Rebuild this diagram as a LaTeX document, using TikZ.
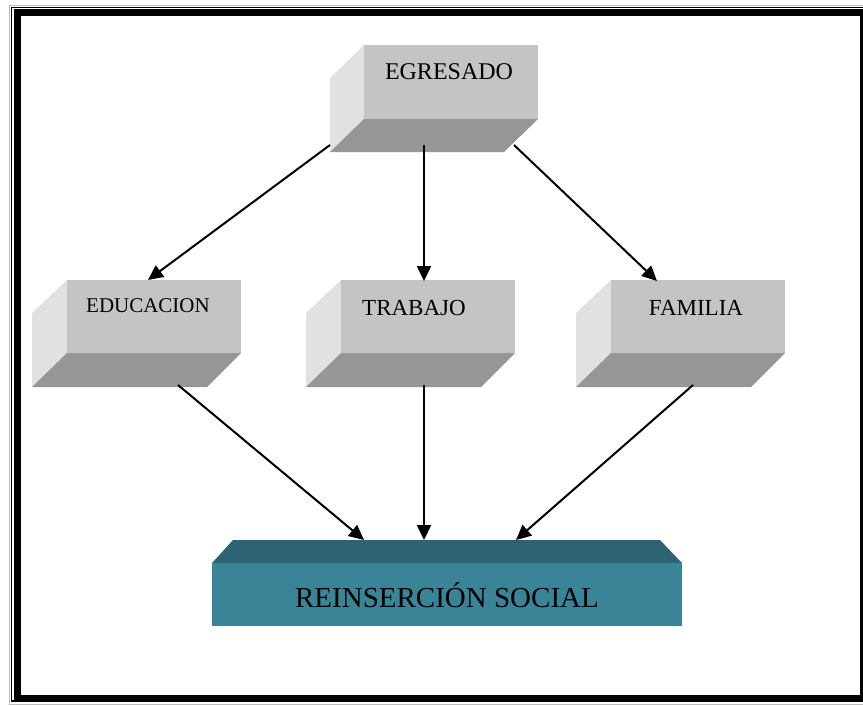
\documentclass[tikz,border=0pt]{standalone}
\usepackage{fontspec}
\setmainfont{Liberation Serif}
\usetikzlibrary{arrows.meta}

\definecolor{frontgray}{RGB}{196,196,196}
\definecolor{sidegray}{RGB}{225,225,225}
\definecolor{basegray}{RGB}{150,150,150}
\definecolor{tealfront}{RGB}{58,132,152}
\definecolor{tealtop}{RGB}{45,99,114}

\begin{document}
\begin{tikzpicture}[x=1pt,y=-1pt,
    flecha/.style={line width=2pt,-{Triangle[length=15pt,width=14pt]}},
    rotulo/.style={inner sep=0pt,font=\fontsize{23}{26}\selectfont}]
    \useasboundingbox (0,0) rectangle (863,705);

    % marco
    \draw[gray!50, line width=1pt] (9,5) rectangle (880,704);
    \draw[black, line width=1.2pt] (11.5,7.5) rectangle (878,701);
    \draw[black, line width=7pt] (17.5,12.5) rectangle (863.5,698);

    % EGRESADO
    \fill[sidegray] (364,45) -- (330,78) -- (330,152) -- (364,119) -- cycle;
    \fill[basegray] (364,119) -- (538,119) -- (504,152) -- (330,152) -- cycle;
    \fill[frontgray] (364,45) rectangle (538,119);
    \node[rotulo, font=\fontsize{24}{26}\selectfont] (egr) at (449,72) {EGRESADO};

    % EDUCACION
    \fill[sidegray] (67,280) -- (32,313) -- (32,387) -- (67,353) -- cycle;
    \fill[basegray] (67,353) -- (241,353) -- (207,387) -- (32,387) -- cycle;
    \fill[frontgray] (67,280) rectangle (241,353);
    \node[rotulo, font=\fontsize{21}{24}\selectfont] (edu) at (148,306) {EDUCACION};

    % TRABAJO
    \fill[sidegray] (341,280) -- (306,313) -- (306,387) -- (341,353) -- cycle;
    \fill[basegray] (341,353) -- (515,353) -- (481,387) -- (306,387) -- cycle;
    \fill[frontgray] (341,280) rectangle (515,353);
    \node[rotulo] (tra) at (414,308) {TRABAJO};

    % FAMILIA
    \fill[sidegray] (611,280) -- (576,313) -- (576,387) -- (611,353) -- cycle;
    \fill[basegray] (611,353) -- (785,353) -- (751,387) -- (576,387) -- cycle;
    \fill[frontgray] (611,280) rectangle (785,353);
    \node[rotulo] (fam) at (696,308) {FAMILIA};

    % REINSERCION SOCIAL
    \fill[tealtop] (212,563) -- (233,540) -- (660,540) -- (682,563) -- cycle;
    \fill[tealfront] (212,563) rectangle (682,626);
    \node[rotulo, font=\fontsize{29}{32}\selectfont] (rei) at (447,595) {REINSERCIÓN SOCIAL};

    % puntos de las flechas
    \coordinate (egrA) at (330,145);
    \coordinate (egrB) at (424,145);
    \coordinate (egrC) at (514,145);
    \coordinate (eduT) at (148,280);
    \coordinate (traT) at (424,281);
    \coordinate (famT) at (657,281);
    \coordinate (eduB) at (178,385);
    \coordinate (traB) at (424,385);
    \coordinate (famB) at (693,385);
    \coordinate (reiA) at (364,540);
    \coordinate (reiB) at (424,540);
    \coordinate (reiC) at (516,540);

    \draw[flecha] (egrA) -- (eduT);
    \draw[flecha] (egrB) -- (traT);
    \draw[flecha] (egrC) -- (famT);
    \draw[flecha] (eduB) -- (reiA);
    \draw[flecha] (traB) -- (reiB);
    \draw[flecha] (famB) -- (reiC);

\end{tikzpicture}
\end{document}
